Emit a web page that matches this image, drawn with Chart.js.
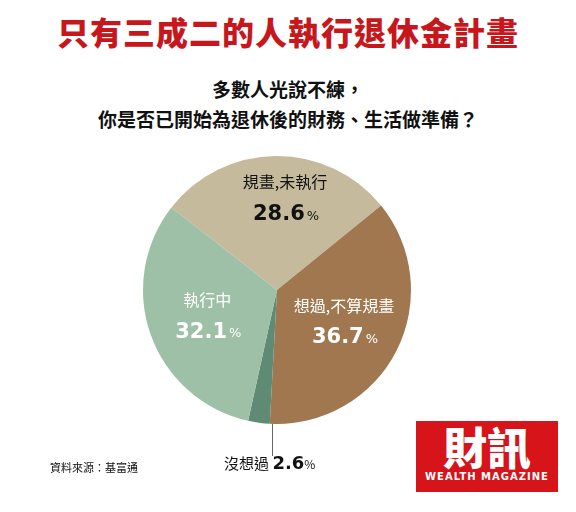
<!DOCTYPE html>
<html><head><meta charset="utf-8">
<script src="https://cdn.jsdelivr.net/npm/chart.js@4"></script>
<style>
body{margin:0;width:576px;height:512px;background:#fff;font-family:"Noto Sans CJK TC",sans-serif;position:relative;overflow:hidden}
.t{position:absolute;white-space:nowrap}
</style></head><body>
<div class="t" style="left:0;width:576px;top:8px;text-align:center;color:#c8161d;font-size:32px;font-weight:900;letter-spacing:1px">只有三成二的人執行退休金計畫</div>
<div class="t" style="left:0;width:576px;top:74px;text-align:center;font-size:19px;font-weight:700;line-height:30px;color:#111">多數人光說不練，<br>你是否已開始為退休後的財務、生活做準備？</div>
<div style="position:absolute;left:141px;top:154px;width:272px;height:272px"><canvas id="c"></canvas></div>
<div style="position:absolute;left:272px;top:424px;width:1px;height:32px;background:#666"></div>
<div class="t" style="left:224px;top:452px;font-size:15px;color:#111">沒想過 <b style="font-family:'DejaVu Sans';font-size:18px">2.6</b><span style="font-size:12px">%</span></div>
<div class="t" style="left:50px;top:459px;font-size:11px;color:#111">資料來源：基富通</div>
<div style="position:absolute;left:416px;top:421px;width:142px;height:71px;background:#d7141a;color:#fff;text-align:center">
<div style="font-size:44px;font-weight:900;line-height:50px;font-family:'Noto Sans CJK TC'">財訊</div>
<div style="font-size:10px;font-weight:700;letter-spacing:1px;font-family:'DejaVu Sans'">WEALTH MAGAZINE</div></div>
<script>
const categories=["規畫，未執行","想過，不算規畫","沒想過","執行中"];
const values=[28.6,36.7,2.6,32.1];
const colors=["#c5bb9c","#a1774f","#5f8b74","#9dc0a7"];
const labelShow=[true,true,false,true];
const labelColor=["#111","#fff","#fff","#fff"];
const labelPos=[[0.06,-0.7],[0.5,0.22],[0,0],[-0.52,0.18]];
const lab={id:'lab',afterDraw(ch){const c=ch.ctx;const a=ch.getDatasetMeta(0).data[0];const cx=a.x,cy=a.y,r=a.outerRadius;
c.save();c.textAlign='center';
values.forEach((v,i)=>{if(!labelShow[i])return;const x=cx+labelPos[i][0]*r,y=cy+labelPos[i][1]*r;
c.fillStyle=labelColor[i];c.font='16px "Noto Sans CJK TC"';c.textBaseline='middle';
c.fillText(categories[i].replace('，',','),x,y-14);
c.font='900 21px "DejaVu Sans"';const s=v.toFixed(1);const w=c.measureText(s).width;c.font='13px "DejaVu Sans"';const w2=c.measureText('%').width;
c.textAlign='left';c.font='900 21px "DejaVu Sans"';c.fillText(s,x-(w+w2)/2,y+18);c.font='13px "DejaVu Sans"';c.fillText('%',x-(w+w2)/2+w+2,y+20);c.textAlign='center';});
c.restore();}};
new Chart(document.getElementById('c'),{type:'pie',data:{labels:categories,datasets:[{data:values,backgroundColor:colors,borderWidth:0}]},
options:{responsive:true,maintainAspectRatio:false,animation:false,rotation:-52,layout:{padding:2},plugins:{legend:{display:false},tooltip:{enabled:false}}},plugins:[lab]});
</script></body></html>
